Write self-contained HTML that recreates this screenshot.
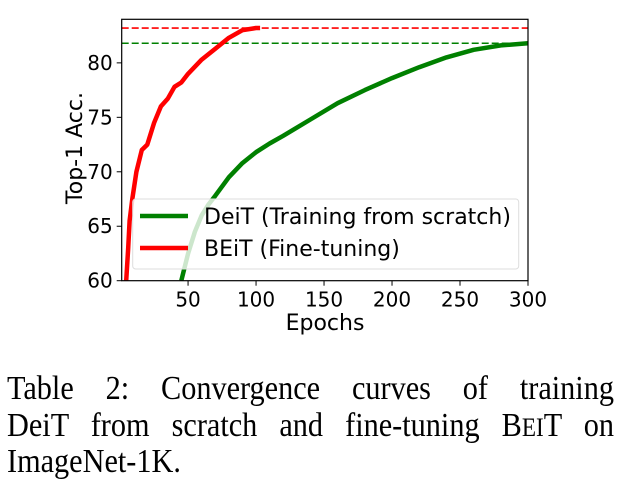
<!DOCTYPE html>
<html><head><meta charset="utf-8"><style>
body{margin:0;background:#fff;width:621px;height:487px;overflow:hidden;position:relative}
.cl{position:absolute;left:7px;width:682px;font-family:"Liberation Serif",serif;font-size:34px;line-height:37.5px;text-align:justify;text-align-last:justify;color:#000;white-space:nowrap;transform:scale(0.89,1);transform-origin:0 0}
.sc{font-size:26px}
</style></head><body>
<svg width="621" height="360" style="position:absolute;left:0;top:0" font-family="DejaVu Sans, sans-serif">
<g id="plot"></g>
</svg>
<div>
<div class="cl" style="top:370px;white-space:normal">Table 2: Convergence curves of training</div>
<div class="cl" style="top:407px;white-space:normal">DeiT from scratch and fine-tuning B<span class="sc">EI</span>T on</div>
<div class="cl" style="top:443px;text-align-last:left">ImageNet-1K.</div>
</div>
<script>
const xTicks=[50,100,150,200,250,300];
const yTicks=[60,65,70,75,80];
const beitEpochs=[4.5,6,7,9,12,16,20,25,30,35,40,45,50,60,70,80,90,100,103];
const beitAcc=[60,63,65.5,67.5,70,72,72.5,74.5,76,76.7,77.8,78.2,79,80.3,81.3,82.3,83,83.2,83.2];
const deitEpochs=[45,50,55,60,65,70,80,90,100,110,120,140,160,180,200,220,240,260,280,300];
const deitAcc=[60,62.5,64.5,66,67,67.8,69.5,70.8,71.8,72.6,73.3,74.8,76.3,77.5,78.6,79.6,80.5,81.2,81.6,81.8];
const beitBest=83.2, deitBest=81.8;
const L=121.7,R=528,T=19.3,B=280.7,xmin=1.2,xmax=300,ymin=60,ymax=84;
const X=v=>L+(v-xmin)/(xmax-xmin)*(R-L);
const Y=v=>B-(v-ymin)/(ymax-ymin)*(B-T);
const g=document.getElementById('plot');const NS='http://www.w3.org/2000/svg';
function mk(t,a,p){const e=document.createElementNS(NS,t);for(const k in a)e.setAttribute(k,a[k]);(p||g).appendChild(e);return e;}
const cp=mk('clipPath',{id:'c'});mk('rect',{x:L,y:T,width:R-L,height:B-T},cp);
let e;
e=mk('line',{x1:L,x2:R,y1:Y(beitBest),y2:Y(beitBest),stroke:'#f00','stroke-width':1.6,'stroke-dasharray':'7,3'});


e=mk('line',{x1:L,x2:R,y1:Y(deitBest),y2:Y(deitBest),stroke:'#008000','stroke-width':1.6,'stroke-dasharray':'7,3'});


function pts(xs,ys){return xs.map((x,i)=>X(x).toFixed(1)+','+Y(ys[i]).toFixed(1)).join(' ');}
e=mk('polyline',{points:pts(deitEpochs,deitAcc),fill:'none',stroke:'#008000','stroke-width':4.5,'stroke-linejoin':'round','clip-path':'url(#c)'});


e=mk('polyline',{points:pts(beitEpochs,beitAcc),fill:'none',stroke:'#f00','stroke-width':4.5,'stroke-linejoin':'round','clip-path':'url(#c)'});


e=mk('rect',{x:L,y:T,width:R-L,height:B-T,fill:'none',stroke:'#000','stroke-width':1.2});


xTicks.forEach(v=>{mk('line',{x1:X(v),x2:X(v),y1:B,y2:B+5,stroke:'#000'});
 e=mk('text',{x:X(v),y:B+26,'text-anchor':'middle','font-size':20});e.textContent=v;
 
 });
yTicks.forEach(v=>{mk('line',{x1:L-5,x2:L,y1:Y(v),y2:Y(v),stroke:'#000'});
 e=mk('text',{x:L-9,y:Y(v)+7,'text-anchor':'end','font-size':20});e.textContent=v;
 
 });
e=mk('text',{x:325,y:330,'text-anchor':'middle','font-size':22});e.textContent='Epochs';


e=mk('text',{x:0,y:0,'text-anchor':'middle','font-size':22,transform:'translate(82,148) rotate(-90)'});e.textContent='Top-1 Acc.';


const lg=mk('g',{});


mk('rect',{x:132.7,y:199,width:386,height:70,rx:3,fill:'#fff','fill-opacity':0.8,stroke:'#ddd'},lg);
mk('line',{x1:140,x2:188,y1:216,y2:216,stroke:'#008000','stroke-width':4.5},lg);
mk('line',{x1:140,x2:188,y1:248,y2:248,stroke:'#f00','stroke-width':4.5},lg);
e=mk('text',{x:204,y:224,'font-size':22},lg);e.textContent='DeiT (Training from scratch)';


e=mk('text',{x:204,y:256,'font-size':22},lg);e.textContent='BEiT (Fine-tuning)';


</script>
</body></html>
